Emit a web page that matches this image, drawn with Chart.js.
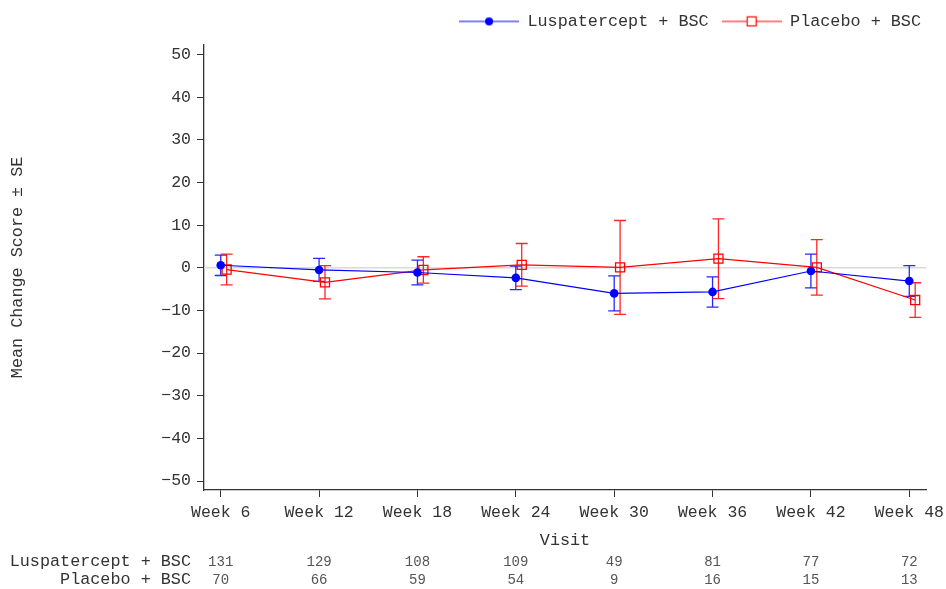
<!DOCTYPE html>
<html>
<head>
<meta charset="utf-8">
<script src="https://cdn.jsdelivr.net/npm/chart.js@4.4.1/dist/chart.umd.min.js"></script>
<style>
  html, body { margin: 0; padding: 0; background: #fff; }
  #wrap { width: 946px; height: 589px; }
</style>
</head>
<body>
<div id="wrap"><canvas id="c" width="946" height="589"></canvas></div>
<script>
// Visits and per-arm summary statistics
const visits = ['Week 6', 'Week 12', 'Week 18', 'Week 24', 'Week 30', 'Week 36', 'Week 42', 'Week 48'];
const lusMean = [0.6, -0.5, -1.1, -2.35, -6.0, -5.65, -0.75, -3.1];
const lusSE   = [2.4, 2.7, 2.9, 2.75, 4.1, 3.55, 3.95, 3.6];
const pboMean = [-0.4, -3.4, -0.5, 0.7, 0.1, 2.15, 0.1, -7.55];
const pboSE   = [3.6, 3.9, 3.1, 5.0, 11.0, 9.35, 6.5, 4.05];
const lusN = [131, 129, 108, 109, 49, 81, 77, 72];
const pboN = [70, 66, 59, 54, 9, 16, 15, 13];
const yTicks = [-50, -40, -30, -20, -10, 0, 10, 20, 30, 40, 50];
const armNames = ['Luspatercept + BSC', 'Placebo + BSC'];

const FONT = '"Liberation Mono", "Courier New", monospace';
const FS = 16.8;
const TEXT = '#333';
const BLUE = '#0000ff';
const RED = '#ff0000';
const PBO_SHIFT = 0.06; // small horizontal dodge so the two arms don't overlap

const lusPoints = visits.map((_, i) => ({ x: i, y: lusMean[i] }));
const pboPoints = visits.map((_, i) => ({ x: i + PBO_SHIFT, y: pboMean[i] }));
const seByArm = [lusSE, pboSE];

// Legend swatch: a line segment with the series marker in the middle
function swatch(color, marker) {
  const c = document.createElement('canvas');
  c.width = 60; c.height = 12;
  const g = c.getContext('2d');
  g.strokeStyle = color; g.lineWidth = 1.2;
  g.beginPath(); g.moveTo(0, 6); g.lineTo(60, 6); g.stroke();
  if (marker === 'circle') {
    g.fillStyle = color;
    g.beginPath(); g.arc(30, 6, 4, 0, Math.PI * 2); g.fill();
  } else {
    g.fillStyle = '#fff';
    g.fillRect(25.5, 1.5, 9, 9);
    g.strokeRect(25.5, 1.5, 9, 9);
  }
  return c;
}

const extras = {
  id: 'extras',
  afterInit(chart) {
    // leave a little more room between the legend row and the plot
    const lg = chart.legend;
    if (lg) {
      const fit = lg.fit;
      lg.fit = function () { fit.call(this); this.height += 5; };
    }
  },
  beforeDatasetsDraw(chart) {
    const { ctx, chartArea, scales: { x, y } } = chart;
    ctx.save();
    // reference line at zero
    const y0 = y.getPixelForValue(0);
    ctx.strokeStyle = '#dadada'; ctx.lineWidth = 1.5;
    ctx.beginPath(); ctx.moveTo(chartArea.left, y0); ctx.lineTo(chartArea.right, y0); ctx.stroke();
    // mean +/- SE whiskers
    chart.data.datasets.forEach((ds, di) => {
      const se = seByArm[di];
      ctx.strokeStyle = ds.borderColor; ctx.lineWidth = 1.3; ctx.globalAlpha = 0.85;
      ds.data.forEach((p, i) => {
        const px = x.getPixelForValue(p.x);
        const top = y.getPixelForValue(p.y + se[i]);
        const bot = y.getPixelForValue(p.y - se[i]);
        ctx.beginPath();
        ctx.moveTo(px, top); ctx.lineTo(px, bot);
        ctx.moveTo(px - 6, top); ctx.lineTo(px + 6, top);
        ctx.moveTo(px - 6, bot); ctx.lineTo(px + 6, bot);
        ctx.stroke();
      });
    });
    ctx.restore();
  },
  afterDraw(chart) {
    // number of subjects at each visit
    const { ctx, scales: { x } } = chart;
    const rows = [[armNames[0], lusN, 562], [armNames[1], pboN, 580]];
    ctx.save();
    ctx.textBaseline = 'middle';
    rows.forEach(([name, counts, yy]) => {
      ctx.fillStyle = TEXT;
      ctx.font = FS + 'px ' + FONT;
      ctx.textAlign = 'right';
      ctx.fillText(name, 191, yy);
      ctx.font = '14px ' + FONT;
      ctx.fillStyle = '#555';
      ctx.textAlign = 'center';
      counts.forEach((n, i) => ctx.fillText(String(n), x.getPixelForValue(i), yy));
    });
    ctx.restore();
  }
};

new Chart(document.getElementById('c'), {
  type: 'line',
  data: {
    datasets: [
      {
        label: armNames[0], data: lusPoints,
        borderColor: BLUE, backgroundColor: BLUE, borderWidth: 1.2,
        pointStyle: 'circle', pointRadius: 4.3, pointBackgroundColor: BLUE, pointBorderWidth: 0,
        tension: 0
      },
      {
        label: armNames[1], data: pboPoints,
        borderColor: RED, backgroundColor: RED, borderWidth: 1.2,
        pointStyle: 'rect', pointRadius: 6.4, pointBackgroundColor: 'rgba(0,0,0,0)',
        pointBorderColor: RED, pointBorderWidth: 1.3,
        tension: 0
      }
    ]
  },
  options: {
    responsive: false,
    devicePixelRatio: 1,
    animation: false,
    layout: { padding: { top: 0, right: 12, bottom: 38, left: 0 } },
    plugins: {
      tooltip: { enabled: false },
      legend: {
        position: 'top', align: 'end',
        labels: {
          usePointStyle: true, pointStyleWidth: 60, padding: 13,
          color: TEXT, font: { family: FONT, size: FS },
          generateLabels: () => [
            { text: armNames[0], pointStyle: swatch(BLUE, 'circle'), fillStyle: BLUE, strokeStyle: BLUE, lineWidth: 0, hidden: false, datasetIndex: 0, fontColor: TEXT },
            { text: armNames[1], pointStyle: swatch(RED, 'rect'), fillStyle: RED, strokeStyle: RED, lineWidth: 0, hidden: false, datasetIndex: 1, fontColor: TEXT }
          ]
        }
      }
    },
    scales: {
      x: {
        type: 'linear', min: -0.17, max: 7.17,
        afterBuildTicks: s => { s.ticks = visits.map((_, i) => ({ value: i })); },
        afterFit: s => { s.height = 61; s.paddingRight = 20; s.paddingLeft = 0; },
        grid: { drawOnChartArea: false, drawTicks: true, tickLength: 7, color: TEXT },
        border: { display: true, color: TEXT, width: 1.3 },
        ticks: {
          color: TEXT, font: { family: FONT, size: 16.5 }, padding: 6,
          maxRotation: 0, autoSkip: false,
          callback: v => visits[v]
        },
        title: { display: true, text: 'Visit', color: TEXT, font: { family: FONT, size: FS }, padding: 0 }
      },
      y: {
        min: -52.1, max: 52.3,
        afterBuildTicks: s => { s.ticks = yTicks.map(v => ({ value: v })); },
        afterFit: s => { s.width = 204; },
        grid: { drawOnChartArea: false, drawTicks: true, tickLength: 7, color: TEXT },
        border: { display: true, color: TEXT, width: 1.3 },
        ticks: { color: TEXT, font: { family: FONT, size: 16.5 }, padding: 6, callback: v => String(v).replace('-', '\u2212') },
        title: { display: true, text: 'Mean Change Score \u00b1 SE', color: TEXT, font: { family: FONT, size: FS }, padding: { top: 7, bottom: 0 } }
      }
    }
  },
  plugins: [extras]
});
</script>
</body>
</html>
